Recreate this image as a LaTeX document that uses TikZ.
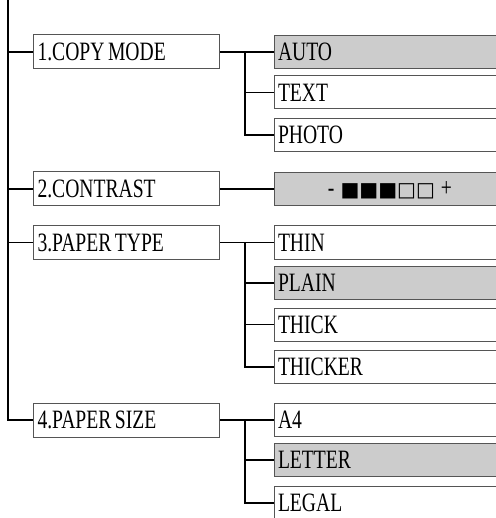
\documentclass[tikz,border=0pt]{standalone}
\usepackage{fontspec}
\setmainfont{Liberation Serif}[FakeStretch=0.74]
\newfontfamily\symfont{DejaVu Sans}
\newcommand\boxfont{\fontsize{26.5}{28}\selectfont}
\newcommand\wsp{\hspace{3.5pt}}
\definecolor{boxgray}{RGB}{204,204,204}
\definecolor{edgegray}{RGB}{85,85,85}
\begin{document}
\begin{tikzpicture}[x=1pt,y=-1pt,
  lvlbox/.style={draw=edgegray,line width=1pt,minimum width=186pt,minimum height=34pt,
    text width=178pt,inner xsep=4pt,inner ysep=0pt,align=left,anchor=west,font=\boxfont},
  optbox/.style={draw=edgegray,line width=1pt,minimum width=250pt,minimum height=33pt,
    text width=243pt,inner xsep=3.5pt,inner ysep=0pt,align=left,anchor=west,font=\boxfont},
  selbox/.style={optbox,fill=boxgray},
  conn/.style={draw=black,line width=1.5pt}]
\useasboundingbox (0,0) rectangle (495,518);
\coordinate (top) at (8,0);
\coordinate (sx) at (245,0);
% level 1
\node[lvlbox] (copy) at (33,52) {1.COPY\wsp MODE};
\node[lvlbox] (contrast) at (33,189) {2.CONTRAST};
\node[lvlbox] (ptype) at (33,242.5) {3.PAPER\wsp TYPE};
\node[lvlbox] (psize) at (33,420) {4.PAPER\wsp SIZE};
% options
\node[selbox] (auto) at (274,52) {AUTO};
\node[optbox] (text) at (274,92.5) {TEXT};
\node[optbox] (photo) at (274,135) {PHOTO};
\node[selbox] (level) at (274,189) {};
\node[anchor=base,font=\boxfont] (levtxt) at (390,197) {-\hspace{6pt}{\symfont\fontsize{20}{22}\selectfont ■■■□□}\hspace{6pt}+};
\node[optbox] (thin) at (274,242.5) {THIN};
\node[selbox] (plain) at (274,283) {PLAIN};
\node[optbox] (thick) at (274,324.5) {THICK};
\node[optbox] (thicker) at (274,367) {THICKER};
\node[optbox] (a4) at (274,420) {A4};
\node[selbox] (letter) at (274,460) {LETTER};
\node[optbox] (legal) at (274,503) {LEGAL};
% main spine
\draw[conn] (top) -- (psize.west -| top) -- (psize.west);
\draw[conn] (copy.west -| top) -- (copy.west);
\draw[conn] (contrast.west -| top) -- (contrast.west);
\draw[conn] (ptype.west -| top) -- (ptype.west);
% copy mode
\draw[conn] (copy.east) -- (auto.west);
\draw[conn] (copy.east -| sx) |- (text.west);
\draw[conn] (copy.east -| sx) |- (photo.west);
% contrast
\draw[conn] (contrast.east) -- (level.west);
% paper type
\draw[conn] (ptype.east) -- (thin.west);
\draw[conn] (ptype.east -| sx) |- (plain.west);
\draw[conn] (ptype.east -| sx) |- (thick.west);
\draw[conn] (ptype.east -| sx) |- (thicker.west);
% paper size
\draw[conn] (psize.east) -- (a4.west);
\draw[conn] (psize.east -| sx) |- (letter.west);
\draw[conn] (psize.east -| sx) |- (legal.west);
\end{tikzpicture}
\end{document}
